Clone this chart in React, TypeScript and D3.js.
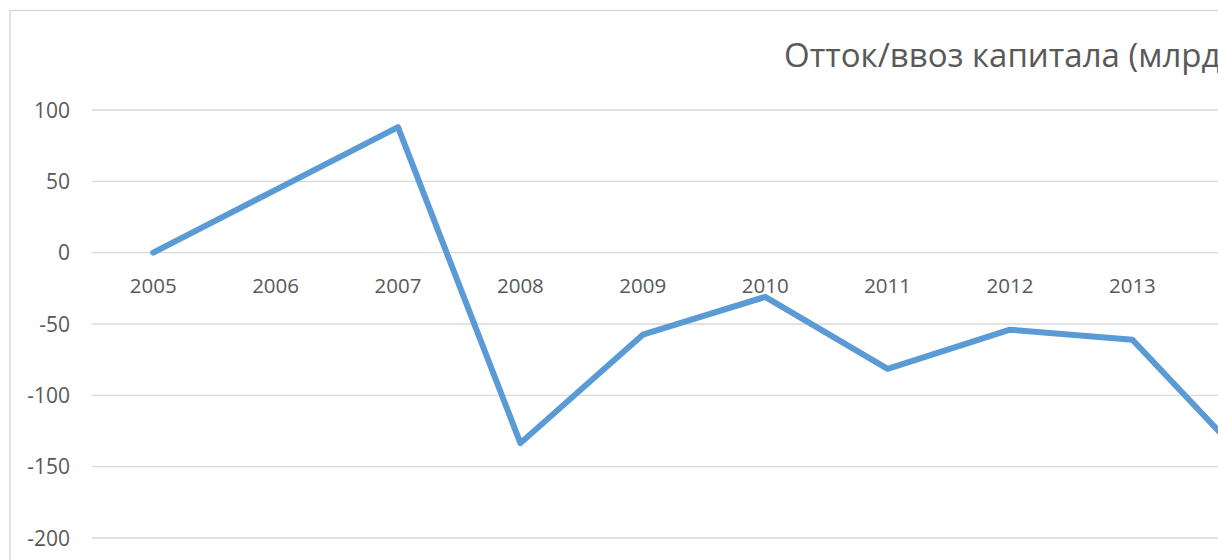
import React, { useEffect, useRef } from 'react';
import * as d3 from 'd3';

const years = ['2005', '2006', '2007', '2008', '2009', '2010', '2011', '2012', '2013', '2014'];
const flows = [0, 44, 88, -133.5, -57.5, -31, -81.5, -54, -61, -152];
const yTicks = [-200, -150, -100, -50, 0, 50, 100];
const title = 'Отток/ввоз капитала (млрд долл.)';

const Chart: React.FC = () => {
  const ref = useRef<SVGSVGElement>(null);

  useEffect(() => {
    const width = 1218;
    const height = 560;
    const svg = d3.select(ref.current);
    svg.selectAll('*').remove();

    const font = '"Open Sans", "Liberation Sans", sans-serif';

    // chart frame, cut off on the right and bottom
    svg
      .append('rect')
      .attr('x', 10)
      .attr('y', 10.5)
      .attr('width', width + 20)
      .attr('height', height + 20)
      .attr('fill', '#fff')
      .attr('stroke', '#d9d9d9')
      .attr('stroke-width', 1.5);

    const x = d3
      .scaleBand()
      .domain(years)
      .range([92, 92 + 122.4 * years.length]);

    const y = d3.scaleLinear().domain([-200, 100]).range([538, 110]);

    // gridlines
    svg
      .append('g')
      .selectAll('line')
      .data(yTicks)
      .enter()
      .append('line')
      .attr('x1', 92)
      .attr('x2', width + 10)
      .attr('y1', (d) => y(d))
      .attr('y2', (d) => y(d))
      .attr('stroke', '#d9d9d9')
      .attr('stroke-width', 1.4);

    // y labels
    svg
      .append('g')
      .selectAll('text')
      .data(yTicks)
      .enter()
      .append('text')
      .attr('x', 70)
      .attr('y', (d) => y(d))
      .attr('dy', '0.36em')
      .attr('text-anchor', 'end')
      .attr('font-family', font)
      .attr('font-size', 21)
      .attr('fill', '#595959')
      .text((d) => String(d));

    // x labels sit just under the zero line (only those inside the window)
    const cx = (d: string) => x(d)! + x.bandwidth() / 2;
    svg
      .append('g')
      .selectAll('text')
      .data(years.filter((d) => cx(d) + 30 < width))
      .enter()
      .append('text')
      .attr('x', cx)
      .attr('y', y(0) + 40)
      .attr('text-anchor', 'middle')
      .attr('font-family', font)
      .attr('font-size', 20.5)
      .attr('fill', '#595959')
      .text((d) => d);

    const line = d3
      .line<number>()
      .x((_, i) => cx(years[i]))
      .y((d) => y(d));

    svg
      .append('path')
      .datum(flows)
      .attr('d', line)
      .attr('fill', 'none')
      .attr('stroke', '#5b9bd5')
      .attr('stroke-width', 6)
      .attr('stroke-linejoin', 'round')
      .attr('stroke-linecap', 'round');

    svg
      .append('text')
      .attr('x', 784)
      .attr('y', 67)
      .attr('font-family', font)
      .attr('font-size', 33)
      .attr('fill', '#595959')
      .text(title);
  }, []);

  return (
    <svg
      ref={ref}
      width={1218}
      height={560}
      style={{ position: 'absolute', left: 0, top: 0, background: '#fff' }}
    ></svg>
  );
};

export default function App() {
  return <Chart />;
}
